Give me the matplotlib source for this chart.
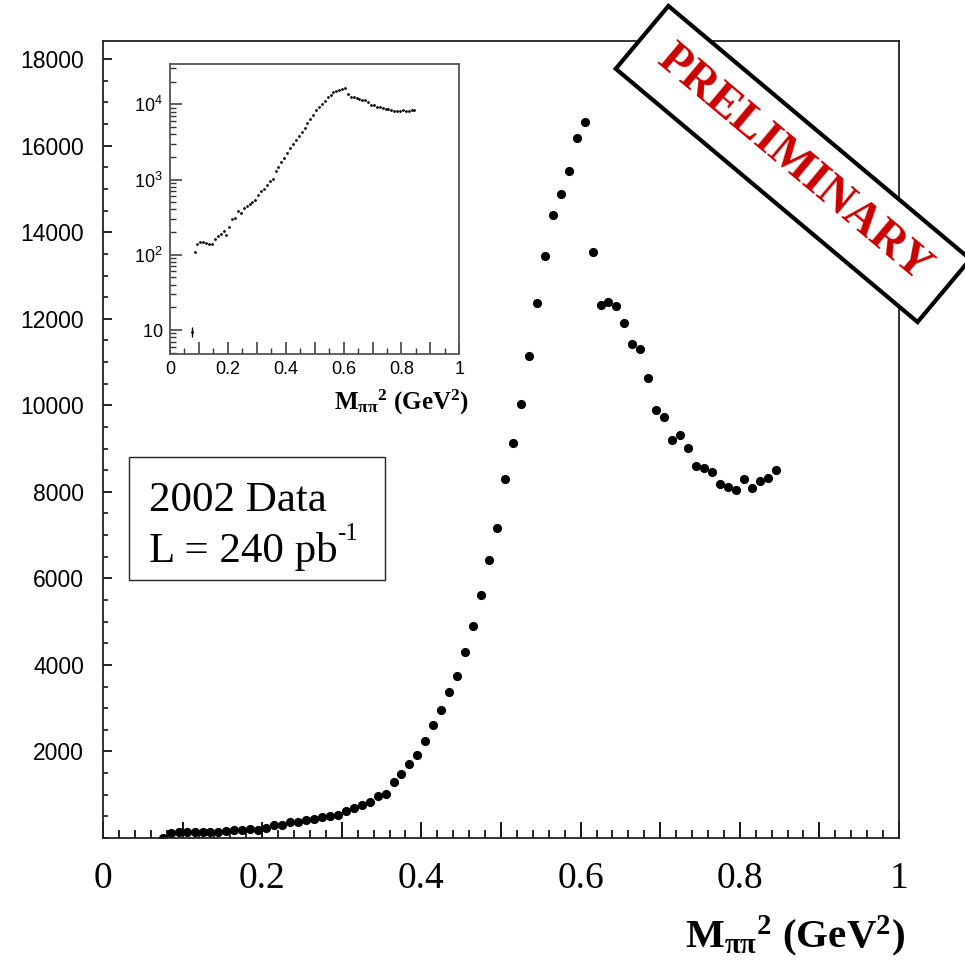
import matplotlib
matplotlib.use('Agg')
import matplotlib.pyplot as plt
import matplotlib.ticker as mticker
import matplotlib.transforms as mtransforms
from matplotlib.patches import Rectangle

plt.rcParams['mathtext.fontset'] = 'custom'
plt.rcParams['mathtext.rm'] = 'Liberation Serif'
plt.rcParams['mathtext.it'] = 'Liberation Serif:italic'
plt.rcParams['mathtext.bf'] = 'Liberation Serif:bold'
plt.rcParams['mathtext.sf'] = 'Liberation Sans'

# ---------------- data ----------------
m2 = [0.075, 0.085, 0.095, 0.105, 0.115, 0.125, 0.135, 0.145, 0.155, 0.165,
      0.175, 0.185, 0.195, 0.205, 0.215, 0.225, 0.235, 0.245, 0.255, 0.265,
      0.275, 0.285, 0.295, 0.305, 0.315, 0.325, 0.335, 0.345, 0.355, 0.365,
      0.375, 0.385, 0.395, 0.405, 0.415, 0.425, 0.435, 0.445, 0.455, 0.465,
      0.475, 0.485, 0.495, 0.505, 0.515, 0.525, 0.535, 0.545, 0.555, 0.565,
      0.575, 0.585, 0.595, 0.605, 0.615, 0.625, 0.635, 0.645, 0.655, 0.665,
      0.675, 0.685, 0.695, 0.705, 0.715, 0.725, 0.735, 0.745, 0.755, 0.765,
      0.775, 0.785, 0.795, 0.805, 0.815, 0.825, 0.835, 0.845]
counts = [9.5, 110, 138, 150, 148, 145, 140, 138, 160, 175,
          190, 205, 185, 237, 300, 306, 380, 360, 413, 445,
          476, 506, 540, 618, 700, 757, 842, 968, 1007, 1284,
          1476, 1707, 1923, 2253, 2623, 2954, 3378, 3739, 4301, 4909,
          5606, 6433, 7169, 8287, 9123, 10028, 11139, 12365, 13452, 14390,
          14891, 15415, 16167, 16540, 13552, 12328, 12383, 12298, 11912, 11413,
          11305, 10628, 9896, 9719, 9197, 9303, 9012, 8603, 8550, 8458,
          8188, 8112, 8042, 8296, 8095, 8241, 8319, 8511]
first_err = [1.5]

main_xticklabels = ['0', '0.2', '0.4', '0.6', '0.8', '1']
main_yticks = [2000, 4000, 6000, 8000, 10000, 12000, 14000, 16000, 18000]
inset_yticks = [10, 100, 1000, 10000]
inset_yticklabels = [r'$\mathsf{10}$', r'$\mathsf{10^{2}}$', r'$\mathsf{10^{3}}$', r'$\mathsf{10^{4}}$']
inset_xticklabels = ['0', '0.2', '0.4', '0.6', '0.8', '1']
legend_lines = ['2002 Data', 'L = 240 pb']
legend_sup = '-1'
stamp_text = 'PRELIMINARY'
xlabel_text = r'$\mathbf{M}_{\mathbf{ππ}}{}^{\mathbf{2}}$' + ' (GeV' + r'${}^{\mathbf{2}}$' + ')'

W, H = 965, 964
fig = plt.figure(figsize=(W / 100, H / 100), dpi=100)

def px(v):
    return v * 0.72  # pixels -> points at dpi 100

def fifth_labels(labels):
    def f(v, pos):
        k = int(round(v * 10))
        if abs(v * 10 - k) < 1e-6 and k % 2 == 0 and 0 <= k <= 10:
            return labels[k // 2]
        return ''
    return mticker.FuncFormatter(f)

# ---------------- main axes ----------------
ax = fig.add_axes([103 / W, 1 - 838 / H, 796 / W, (838 - 41) / H])
ax.plot(m2, counts, 'o', color='black', ms=6.6, mew=0)
ax.set_xlim(0, 1)
ax.set_ylim(0, 18420)
for s in ax.spines.values():
    s.set_linewidth(1.3)
    s.set_color('#222222')

ax.xaxis.set_major_locator(mticker.MultipleLocator(0.1))
ax.xaxis.set_minor_locator(mticker.MultipleLocator(0.02))
ax.xaxis.set_major_formatter(fifth_labels(main_xticklabels))
ax.set_yticks(main_yticks)
ax.yaxis.set_minor_locator(mticker.MultipleLocator(500))
ax.tick_params(axis='x', which='major', direction='in', length=px(16), width=1.3,
               pad=px(24), labelsize=27, top=False)
ax.tick_params(axis='x', which='minor', direction='in', length=px(8), width=1.2, top=False)
ax.tick_params(axis='y', which='major', direction='in', length=px(9), width=1.2,
               pad=px(19), labelsize=16.5, right=False)
ax.tick_params(axis='y', which='minor', direction='in', length=px(5), width=1.1, right=False)
for lab in ax.get_xticklabels():
    lab.set_fontfamily('Liberation Serif')
for lab in ax.get_yticklabels():
    lab.set_fontfamily('Liberation Sans')

fig.text(905 / W, 1 - 948 / H, xlabel_text,
         ha='right', va='baseline', fontsize=29.5, fontweight='bold',
         family='Liberation Serif')

# ---------------- inset ----------------
axin = fig.add_axes([170 / W, 1 - 354 / H, (459.3 - 170) / W, (354 - 64.3) / H])
axin.set_yscale('log')
axin.set_xlim(0, 1)
axin.set_ylim(4.8, 34000)
axin.plot(m2, counts, 'o', color='black', ms=2.0, mew=0)
axin.errorbar([m2[0]], [counts[0]], yerr=[first_err, first_err], fmt='none',
              ecolor='black', elinewidth=1.0, capsize=0)
for s in axin.spines.values():
    s.set_linewidth(1.3)
    s.set_color('#555555')
axin.xaxis.set_major_locator(mticker.MultipleLocator(0.1))
axin.xaxis.set_minor_locator(mticker.MultipleLocator(0.05))
axin.xaxis.set_major_formatter(fifth_labels(inset_xticklabels))
axin.set_yticks(inset_yticks)
axin.set_yticklabels(inset_yticklabels)
axin.yaxis.set_minor_locator(mticker.LogLocator(base=10, subs=range(2, 10)))
axin.yaxis.set_minor_formatter(mticker.NullFormatter())
axin.tick_params(axis='both', which='major', direction='in', length=px(12), width=1.1,
                 labelsize=13, top=False, right=False, color='#333333')
axin.tick_params(axis='both', which='minor', direction='in', length=px(6), width=1.0,
                 top=False, right=False, color='#333333')
axin.tick_params(axis='x', which='major', pad=px(7))
axin.tick_params(axis='y', which='major', pad=px(7))
for lab in axin.get_xticklabels():
    lab.set_fontfamily('Liberation Sans')

fig.text(469 / W, 1 - 410 / H, xlabel_text,
         ha='right', va='baseline', fontsize=18, fontweight='bold',
         family='Liberation Serif')

# ---------------- legend box ----------------
box = Rectangle((129.3 / W, 1 - 580 / H), (385 - 129.3) / W, (580 - 457.3) / H,
                transform=fig.transFigure, fc='white', ec='#222222', lw=1.0, zorder=5)
fig.add_artist(box)
t1 = fig.text(149 / W, 1 - 511 / H, legend_lines[0], fontsize=31,
              family='Liberation Serif', va='baseline', zorder=6)
t2 = fig.text(149 / W, 1 - 562 / H, legend_lines[1], fontsize=31,
              family='Liberation Serif', va='baseline', zorder=6)
fig.canvas.draw()
bb = t2.get_window_extent()
fig.text((bb.x1 - 1) / W, 1 - 540 / H, legend_sup, fontsize=18,
         family='Liberation Serif', va='baseline', zorder=6)

# ---------------- PRELIMINARY stamp ----------------
cx, cy = 793.0, H - 164.0
angle = -40
Lb, Hb = 394.0, 82.0
tr = mtransforms.Affine2D().rotate_deg_around(cx, cy, angle) + mtransforms.IdentityTransform()
stamp_box = Rectangle((cx - Lb / 2, cy - Hb / 2), Lb, Hb, fc='white', ec='black',
                      lw=3.0, transform=tr, zorder=10, clip_on=False)
fig.add_artist(stamp_box)
fig.text(cx / W, cy / H, stamp_text, rotation=angle, rotation_mode='anchor',
         ha='center', va='center', color='#cc0000', fontsize=34, fontweight='bold',
         family='Liberation Serif', zorder=11)

fig.savefig('out.png', dpi=100)
